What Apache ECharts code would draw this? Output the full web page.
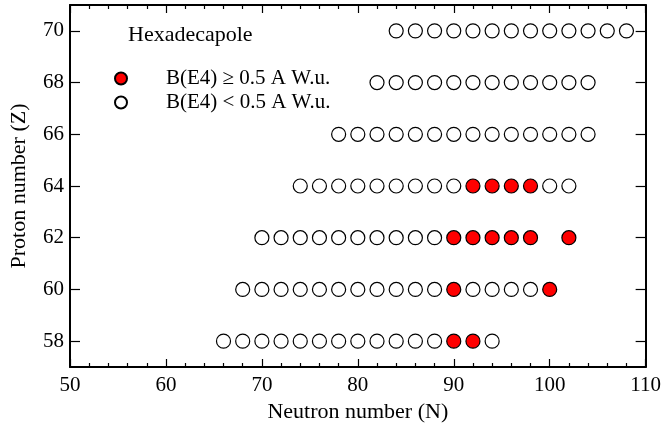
<!DOCTYPE html>
<html>
<head>
<meta charset="utf-8">
<script src="https://cdn.jsdelivr.net/npm/echarts@6/dist/echarts.min.js"></script>
<style>
  html, body { margin: 0; padding: 0; background: #fff; }
  #chart { width: 664px; height: 433px; }
</style>
</head>
<body>
<div id="chart"></div>
<script>
// one row per proton number, N values split by B(E4) strength
const zRows = [58, 60, 62, 64, 66, 68, 70]
const weakN = [
  [66, 68, 70, 72, 74, 76, 78, 80, 82, 84, 86, 88, 94],
  [68, 70, 72, 74, 76, 78, 80, 82, 84, 86, 88, 92, 94, 96, 98],
  [70, 72, 74, 76, 78, 80, 82, 84, 86, 88],
  [74, 76, 78, 80, 82, 84, 86, 88, 90, 100, 102],
  [78, 80, 82, 84, 86, 88, 90, 92, 94, 96, 98, 100, 102, 104],
  [82, 84, 86, 88, 90, 92, 94, 96, 98, 100, 102, 104],
  [84, 86, 88, 90, 92, 94, 96, 98, 100, 102, 104, 106, 108],
]
const strongN = [
  [90, 92],
  [90, 100],
  [90, 92, 94, 96, 98, 102],
  [92, 94, 96, 98],
  [],
  [],
  [],
]
const yTicks = [58, 60, 62, 64, 66, 68, 70]

const strongName = 'B(E4) \u2265 0.5 A W.u.'
const weakName = 'B(E4) < 0.5 A W.u.'

const toPoints = (rows) => rows.flatMap((ns, i) => ns.map((n) => [n, zRows[i]]))

const font = 'Liberation Serif'
const black = '#000'

const xBase = {
  type: 'value',
  min: 50,
  max: 110,
  interval: 10,
  axisLine: { show: true, onZero: false, lineStyle: { color: black, width: 2 } },
  axisTick: { show: true, inside: true, length: 8, lineStyle: { color: black, width: 1.2 } },
  minorTick: { show: true, splitNumber: 5, length: 4, lineStyle: { color: black, width: 1.2 } },
  splitLine: { show: false },
}
const yBase = {
  type: 'value',
  min: 57,
  max: 71,
  axisLine: { show: true, onZero: false, lineStyle: { color: black, width: 2 } },
  axisTick: { show: true, inside: true, length: 10, customValues: yTicks, lineStyle: { color: black, width: 1.2 } },
  splitLine: { show: false },
}

const chart = echarts.init(document.getElementById('chart'))
chart.setOption({
  animation: false,
  backgroundColor: '#fff',
  textStyle: { fontFamily: font },
  grid: { left: 68, right: 11, top: 5, bottom: 66 },
  title: {
    text: 'Hexadecapole',
    left: 123,
    top: 19,
    textStyle: { fontFamily: font, fontSize: 22, fontWeight: 'normal', color: black },
  },
  legend: {
    orient: 'vertical',
    left: 109,
    top: 63,
    itemWidth: 12,
    itemHeight: 12,
    itemGap: 3,
    icon: 'circle',
    data: [strongName, weakName],
    textStyle: { fontFamily: font, fontSize: 21, color: black, padding: [0, 0, 0, 34] },
  },
  xAxis: [
    {
      ...xBase,
      position: 'bottom',
      axisLabel: { color: black, fontFamily: font, fontSize: 21, margin: 8 },
      name: 'Neutron number (N)',
      nameLocation: 'middle',
      nameGap: 32,
      nameTextStyle: { color: black, fontFamily: font, fontSize: 22 },
    },
    { ...xBase, position: 'top', axisLabel: { show: false } },
  ],
  yAxis: [
    {
      ...yBase,
      position: 'left',
      axisLabel: { color: black, fontFamily: font, fontSize: 21, margin: 6, customValues: yTicks },
      name: 'Proton number (Z)',
      nameLocation: 'middle',
      nameGap: 40,
      nameTextStyle: { color: black, fontFamily: font, fontSize: 22 },
    },
    { ...yBase, position: 'right', axisLabel: { show: false } },
  ],
  series: [
    {
      name: weakName,
      type: 'scatter',
      symbol: 'circle',
      symbolSize: 14,
      data: toPoints(weakN),
      itemStyle: { color: '#fff', borderColor: black, borderWidth: 1.2, opacity: 1 },
      emphasis: { disabled: true },
    },
    {
      name: strongName,
      type: 'scatter',
      symbol: 'circle',
      symbolSize: 14,
      data: toPoints(strongN),
      itemStyle: { color: '#ff0000', borderColor: black, borderWidth: 1.2, opacity: 1 },
      emphasis: { disabled: true },
    },
  ],
})
</script>
</body>
</html>
